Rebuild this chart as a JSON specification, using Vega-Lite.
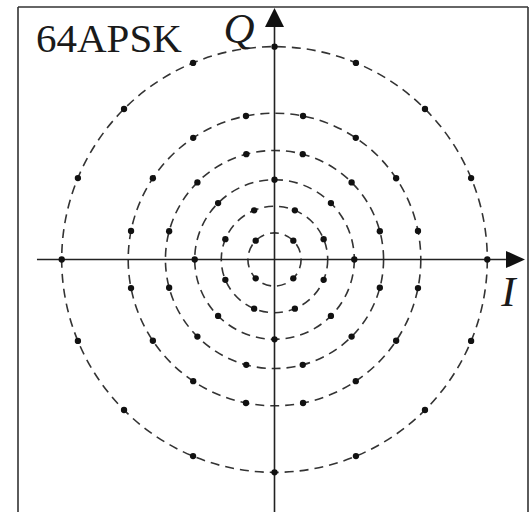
{
  "$schema": "https://vega.github.io/schema/vega-lite/v6.json",
  "width": 510,
  "height": 505,
  "autosize": "none",
  "padding": {"left": 18, "top": 7, "right": 2, "bottom": 0},
  "background": "white",
  "config": {"view": {"stroke": null}},
  "datasets": {
    "frame": [
      {"side": "left", "x": -9.643, "y": -9.6, "x2": -9.643, "y2": 9.492},
      {"side": "right", "x": 9.530, "y": -9.6, "x2": 9.530, "y2": 9.492},
      {"side": "top", "x": -9.643, "y": 9.492, "x2": 9.530, "y2": 9.492}
    ],
    "rings": [
      {"x": 0, "y": 0, "r": 1},
      {"x": 0, "y": 0, "r": 2},
      {"x": 0, "y": 0, "r": 3},
      {"x": 0, "y": 0, "r": 4.1},
      {"x": 0, "y": 0, "r": 5.5},
      {"x": 0, "y": 0, "r": 8}
    ],
    "axes": [
      {"name": "I", "x": -8.93, "y": 0, "x2": 8.70, "y2": 0},
      {"name": "Q", "x": 0, "y": -9.6, "x2": 0, "y2": 8.74}
    ],
    "arrows": [
      {"dir": "right", "x": 9.06, "y": 0},
      {"dir": "up", "x": 0, "y": 9.098}
    ],
    "title": [
      {"label": "64APSK", "x": -8.966, "y": 7.79}
    ],
    "axislabels": [
      {"label": "Q", "x": -1.335, "y": 8.14},
      {"label": "I", "x": 8.797, "y": -1.748}
    ],
    "points": [
      {"ring": 1, "x": 0.7071, "y": 0.7071},
      {"ring": 1, "x": -0.7071, "y": 0.7071},
      {"ring": 1, "x": -0.7071, "y": -0.7071},
      {"ring": 1, "x": 0.7071, "y": -0.7071},
      {"ring": 2, "x": 1.8478, "y": 0.7654},
      {"ring": 2, "x": 0.7654, "y": 1.8478},
      {"ring": 2, "x": -0.7654, "y": 1.8478},
      {"ring": 2, "x": -1.8478, "y": 0.7654},
      {"ring": 2, "x": -1.8478, "y": -0.7654},
      {"ring": 2, "x": -0.7654, "y": -1.8478},
      {"ring": 2, "x": 0.7654, "y": -1.8478},
      {"ring": 2, "x": 1.8478, "y": -0.7654},
      {"ring": 3, "x": 3, "y": 0},
      {"ring": 3, "x": 2.1213, "y": 2.1213},
      {"ring": 3, "x": 0, "y": 3},
      {"ring": 3, "x": -2.1213, "y": 2.1213},
      {"ring": 3, "x": -3, "y": 0},
      {"ring": 3, "x": -2.1213, "y": -2.1213},
      {"ring": 3, "x": 0, "y": -3},
      {"ring": 3, "x": 2.1213, "y": -2.1213},
      {"ring": 4, "x": 3.9603, "y": 1.0612},
      {"ring": 4, "x": 2.8991, "y": 2.8991},
      {"ring": 4, "x": 1.0612, "y": 3.9603},
      {"ring": 4, "x": -1.0612, "y": 3.9603},
      {"ring": 4, "x": -2.8991, "y": 2.8991},
      {"ring": 4, "x": -3.9603, "y": 1.0612},
      {"ring": 4, "x": -3.9603, "y": -1.0612},
      {"ring": 4, "x": -2.8991, "y": -2.8991},
      {"ring": 4, "x": -1.0612, "y": -3.9603},
      {"ring": 4, "x": 1.0612, "y": -3.9603},
      {"ring": 4, "x": 2.8991, "y": -2.8991},
      {"ring": 4, "x": 3.9603, "y": -1.0612},
      {"ring": 5, "x": 5.3943, "y": 1.0730},
      {"ring": 5, "x": 4.5731, "y": 3.0556},
      {"ring": 5, "x": 3.0556, "y": 4.5731},
      {"ring": 5, "x": 1.0730, "y": 5.3943},
      {"ring": 5, "x": -1.0730, "y": 5.3943},
      {"ring": 5, "x": -3.0556, "y": 4.5731},
      {"ring": 5, "x": -4.5731, "y": 3.0556},
      {"ring": 5, "x": -5.3943, "y": 1.0730},
      {"ring": 5, "x": -5.3943, "y": -1.0730},
      {"ring": 5, "x": -4.5731, "y": -3.0556},
      {"ring": 5, "x": -3.0556, "y": -4.5731},
      {"ring": 5, "x": -1.0730, "y": -5.3943},
      {"ring": 5, "x": 1.0730, "y": -5.3943},
      {"ring": 5, "x": 3.0556, "y": -4.5731},
      {"ring": 5, "x": 4.5731, "y": -3.0556},
      {"ring": 5, "x": 5.3943, "y": -1.0730},
      {"ring": 6, "x": 8, "y": 0},
      {"ring": 6, "x": 7.3910, "y": 3.0615},
      {"ring": 6, "x": 5.6569, "y": 5.6569},
      {"ring": 6, "x": 3.0615, "y": 7.3910},
      {"ring": 6, "x": 0, "y": 8},
      {"ring": 6, "x": -3.0615, "y": 7.3910},
      {"ring": 6, "x": -5.6569, "y": 5.6569},
      {"ring": 6, "x": -7.3910, "y": 3.0615},
      {"ring": 6, "x": -8, "y": 0},
      {"ring": 6, "x": -7.3910, "y": -3.0615},
      {"ring": 6, "x": -5.6569, "y": -5.6569},
      {"ring": 6, "x": -3.0615, "y": -7.3910},
      {"ring": 6, "x": 0, "y": -8},
      {"ring": 6, "x": 3.0615, "y": -7.3910},
      {"ring": 6, "x": 5.6569, "y": -5.6569},
      {"ring": 6, "x": 7.3910, "y": -3.0615}
    ]
  },
  "encoding": {
    "x": {"field": "x", "type": "quantitative", "scale": {"domain": [-9.643, 9.530], "nice": false, "zero": false}, "axis": null},
    "y": {"field": "y", "type": "quantitative", "scale": {"domain": [-9.492, 9.492], "nice": false, "zero": false}, "axis": null}
  },
  "layer": [
    {
      "data": {"name": "frame"},
      "mark": {"type": "rule", "color": "#333", "strokeWidth": 1.6},
      "encoding": {"x2": {"field": "x2"}, "y2": {"field": "y2"}}
    },
    {
      "data": {"name": "rings"},
      "mark": {"type": "point", "shape": "circle", "filled": false, "stroke": "#333", "strokeWidth": 1.6, "strokeDash": [9, 6], "opacity": 1},
      "encoding": {
        "size": {"field": "r", "type": "quantitative", "scale": {"type": "pow", "exponent": 2, "domain": [0, 10], "range": [0, 283024]}, "legend": null}
      }
    },
    {
      "data": {"name": "axes"},
      "mark": {"type": "rule", "color": "#222", "strokeWidth": 1.6},
      "encoding": {"x2": {"field": "x2"}, "y2": {"field": "y2"}}
    },
    {
      "data": {"name": "arrows"},
      "mark": {"type": "point", "filled": true, "color": "#111", "opacity": 1, "size": 361},
      "encoding": {
        "shape": {"field": "dir", "type": "nominal", "scale": {"domain": ["right", "up"], "range": ["M -1 -0.9 L 1 0 L -1 0.9 Z", "M 0 -1 L 1 1 L -1 1 Z"]}, "legend": null}
      }
    },
    {
      "data": {"name": "points"},
      "mark": {"type": "point", "shape": "circle", "filled": true, "color": "#111", "opacity": 1, "size": 40}
    },
    {
      "data": {"name": "title"},
      "mark": {"type": "text", "font": "Liberation Serif", "fontSize": 41, "align": "left", "baseline": "alphabetic", "color": "#1a1a1a"},
      "encoding": {"text": {"field": "label"}}
    },
    {
      "data": {"name": "axislabels"},
      "mark": {"type": "text", "font": "Liberation Serif", "fontSize": 43, "fontStyle": "italic", "align": "center", "baseline": "alphabetic", "color": "#1a1a1a"},
      "encoding": {"text": {"field": "label"}}
    }
  ]
}
